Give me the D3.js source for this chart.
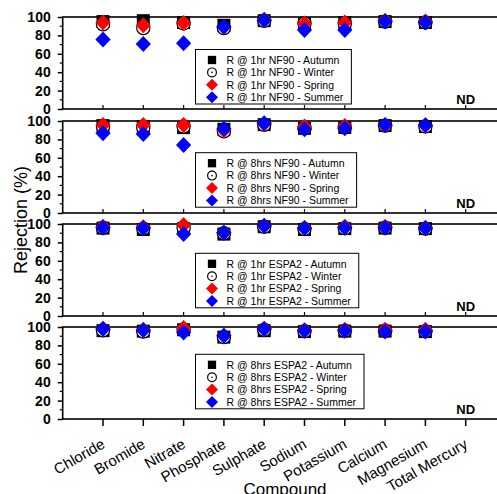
<!DOCTYPE html>
<html>
<head>
<meta charset="utf-8">
<script src="https://cdn.jsdelivr.net/npm/d3@7"></script>
<style>
  body { margin: 0; background: #fff; }
  svg { font-family: Arial, "Liberation Sans", sans-serif; }
</style>
</head>
<body>
<div id="chart"></div>
<script>
// categories along x
const compounds = ["Chloride", "Bromide", "Nitrate", "Phosphate", "Sulphate", "Sodium",
  "Potassium", "Calcium", "Magnesium", "Total Mercury"];
const seasons = ["Autumn", "Winter", "Spring", "Summer"];
const panelNames = ["1hr NF90", "8hrs NF90", "1hr ESPA2", "8hrs ESPA2"];
const yTicks = [0, 20, 40, 60, 80, 100];

// rejection (%) per season: Autumn, Winter, Spring, Summer (Total Mercury = ND)
const nf90_1hr = [
  [95, 96, 94, 91, 96, 93, 94, 95, 94, null],
  [92, 88, 93, 88, 96, 93, 93, 95, 94, null],
  [94, 91, 93.5, 89, 97, 93, 94, 96, 95, null],
  [75.5, 70.7, 71.4, 89.5, 96.5, 86, 86, 95, 94, null]
];
const nf90_8hrs = [
  [95, 94, 92.8, 91, 96, 92, 93, 95, 94, null],
  [94, 93, 94, 88.8, 96, 92, 93, 95, 94, null],
  [95.6, 95.6, 95.6, 90, 97, 94, 94.5, 95, 95, null],
  [86.6, 86, 74, 91.6, 97.5, 91, 92, 95.6, 95.5, null]
];
const espa2_1hr = [
  [95.5, 94, 95, 89, 97, 94, 95, 95.5, 95, null],
  [96, 95, 96, 90, 97, 94.5, 95.5, 96, 95, null],
  [97, 96.5, 99, 90.5, 98, 96, 97, 97, 96, null],
  [96, 95.5, 89, 90.5, 97.8, 95.3, 96, 96, 95.5, null]
];
const espa2_8hrs = [
  [96, 95.5, 97, 89, 96, 95, 95.5, 95.5, 95, null],
  [96.5, 95, 97, 89, 97, 95.5, 96, 96, 95.5, null],
  [98, 97, 99, 90.5, 98, 96.5, 97, 97, 97, null],
  [97.8, 96.4, 94, 90.5, 97.8, 96, 96, 95, 95, null]
];
const panelData = [nf90_1hr, nf90_8hrs, espa2_1hr, espa2_8hrs];

const width = 497, height = 494;
const left = 62.7;
const panelTops = [17, 121, 224, 327];
const panelH = 92;
const legendOffsets = [32.5, 31.7, 29.3, 27.3];

const svg = d3.select("#chart").append("svg")
  .attr("width", width).attr("height", height);

// x scale on category index, 0 = left frame
const x = d3.scaleLinear().domain([0, 11]).range([left, 506]);

// marker drawing
function diamond(w, h) { return `M0,${-h}L${w},0L0,${h}L${-w},0Z`; }
function drawMarker(g, s, big) {
  if (s === 0) {
    const a = big ? 13 : 8.3;
    g.append("rect").attr("x", -a / 2).attr("y", -a / 2).attr("width", a).attr("height", a).attr("fill", "#000");
  } else if (s === 1) {
    g.append("circle").attr("r", big ? 6.6 : 4.4).attr("fill", "#fff").attr("stroke", "#000").attr("stroke-width", 1.2);
    g.append("circle").attr("r", big ? 1 : 0.8).attr("fill", "#000");
  } else {
    const c = s === 2 ? "#ff0000" : "#0000ff";
    g.append("path").attr("d", big ? diamond(7.6, 8) : diamond(6, 6)).attr("fill", c);
  }
}

panelData.forEach((data, p) => {
  const top = panelTops[p];
  const y = d3.scaleLinear().domain([0, 100]).range([top + panelH, top]);
  const pg = svg.append("g");

  // y axis, major ticks
  const yaxis = pg.append("g")
    .attr("transform", `translate(${left},0)`)
    .call(d3.axisLeft(y).tickValues(yTicks).tickSize(5).tickPadding(7).tickFormat(d3.format("d")));
  yaxis.select(".domain").remove();
  yaxis.selectAll("line").attr("stroke-width", 1.5);
  yaxis.selectAll("text").attr("font-size", 14).attr("font-weight", "bold")
    .attr("font-family", "Arial, 'Liberation Sans', sans-serif").attr("fill", "#000");
  // minor ticks
  pg.selectAll(".minor").data([10, 30, 50, 70, 90]).enter().append("line")
    .attr("x1", left - 3).attr("x2", left)
    .attr("y1", d => y(d)).attr("y2", d => y(d))
    .attr("stroke", "#000").attr("stroke-width", 1.2);

  // small ticks on the panel bottom
  if (p < 3) {
    pg.selectAll(".xt").data(compounds).enter().append("line")
      .attr("x1", (d, i) => x(i + 1)).attr("x2", (d, i) => x(i + 1))
      .attr("y1", y(0)).attr("y2", y(0) - 4)
      .attr("stroke", "#000").attr("stroke-width", 1.2);
  }

  // frame
  pg.append("rect")
    .attr("x", left).attr("y", top).attr("width", x(11) - left).attr("height", panelH)
    .attr("fill", "none").attr("stroke", "#000").attr("stroke-width", 1.6);

  // ND label
  pg.append("text").attr("x", x(10)).attr("y", y(0) - 5.5)
    .attr("text-anchor", "middle").attr("font-size", 13).attr("font-weight", "bold").text("ND");

  // markers: Autumn, Winter, Spring, Summer
  data.forEach((vals, s) => {
    vals.forEach((v, i) => {
      if (v == null) return;
      const g = pg.append("g").attr("transform", `translate(${x(i + 1)},${y(v)})`);
      drawMarker(g, s, true);
    });
  });

  // legend
  const lx = 195.5, ly = top + legendOffsets[p];
  const lg = pg.append("g");
  const box = lg.append("rect").attr("x", lx).attr("y", ly).attr("height", 54.5)
    .attr("fill", "#fff").attr("stroke", "#000").attr("stroke-width", 1);
  let maxW = 0;
  seasons.forEach((sname, s) => {
    const ry = ly + 10.5 + s * 12.4;
    drawMarker(lg.append("g").attr("transform", `translate(212,${ry})`), s, false);
    const t = lg.append("text").attr("x", 226.5).attr("y", ry + 3.8)
      .attr("font-size", 10.5).text(`R @ ${panelNames[p]} - ${sname}`);
    maxW = Math.max(maxW, t.node().getComputedTextLength());
  });
  box.attr("width", 226.5 - lx + maxW + 8);
});

// bottom x axis
const bottom = panelTops[3] + panelH;
svg.selectAll(".xtick").data(compounds).enter().append("line")
  .attr("x1", (d, i) => x(i + 1)).attr("x2", (d, i) => x(i + 1))
  .attr("y1", bottom).attr("y2", bottom + 7)
  .attr("stroke", "#000").attr("stroke-width", 1.5);
svg.selectAll(".xlabel").data(compounds).enter().append("text")
  .attr("transform", (d, i) => `translate(${x(i + 1) + 3},447) rotate(-30)`)
  .attr("text-anchor", "end").attr("font-size", 15).text(d => d);

// axis titles
svg.append("text").attr("x", 285).attr("y", 495).attr("text-anchor", "middle")
  .attr("font-size", 17).text("Compound");
svg.append("text").attr("transform", "translate(26.7,220) rotate(-90)")
  .attr("text-anchor", "middle").attr("font-size", 18).text("Rejection (%)");
</script>
</body>
</html>
